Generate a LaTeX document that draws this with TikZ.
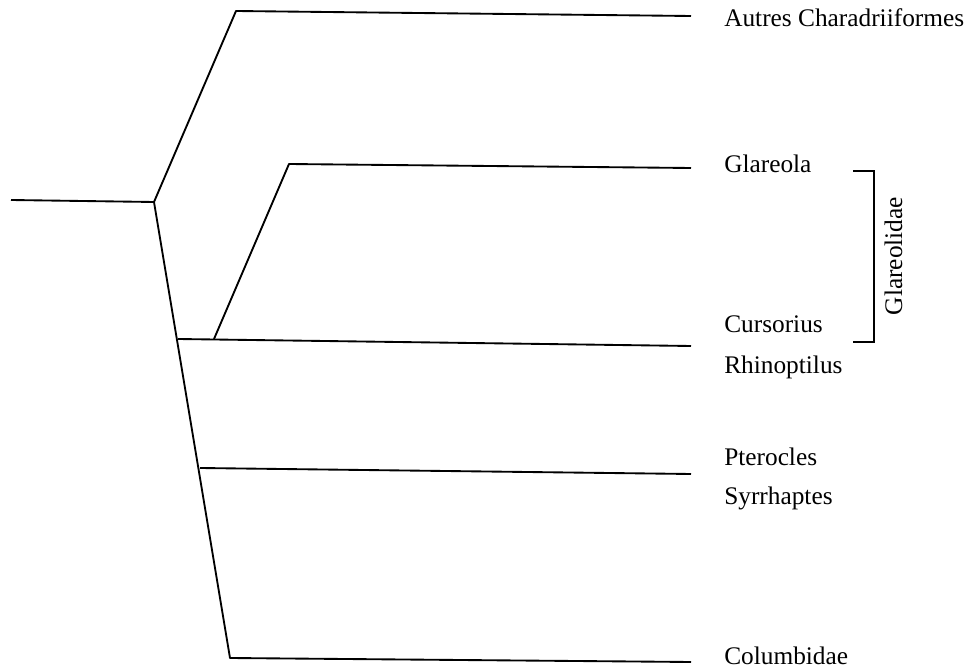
\documentclass[tikz,border=0pt]{standalone}
\usepackage{fontspec}
\setmainfont{Liberation Serif}
\usetikzlibrary{positioning,calc}
\tikzset{branch/.style={line width=1.4pt, line join=round},
  taxon/.style={anchor=base west, inner sep=0pt, font=\fontsize{19}{22}\selectfont}}

\begin{document}
\begin{tikzpicture}[x=0.75pt, y=-0.75pt]
    \useasboundingbox (0,0) rectangle (976,670);
    % tree points
    \coordinate (root) at (11,200);
    \coordinate (n1) at (154,202);
    \coordinate (up) at (236,11);
    \coordinate (n2) at (178,339);
    \coordinate (n3) at (214,339);
    \coordinate (gl) at (289,164);
    \coordinate (n4) at (200,468);
    \coordinate (n5) at (230,658);
    \foreach[count=\i] \lab/\y in {Autres Charadriiformes/27,Glareola/173,Cursorius/333,Rhinoptilus/374,Pterocles/466,Syrrhaptes/505,Columbidae/664} {
        \node[taxon] (t-\i) at (724,\y) {\lab};
    }
    \coordinate (e1) at (691,16);
    \coordinate (e2) at (691,168);
    \coordinate (e3) at (691,346);
    \coordinate (e4) at (691,474);
    \coordinate (e5) at (691,662);
    \draw[branch] (root) -- (n1) -- (up) -- (e1);
    \draw[branch] (n1) -- (n5) -- (e5);
    \draw[branch] (n2) -- (e3);
    \draw[branch] (n3) -- (gl) -- (e2);
    \draw[branch] (n4) -- (e4);
    % bracket
    \coordinate (b1) at (853,171);
    \coordinate (b2) at (853,342);
    \draw[line width=1.3pt] (b1) -- ++(21,0) |- (b2);
    \node[rotate=90, anchor=base, inner sep=0pt, font=\fontsize{19}{22}\selectfont] (fam) at (902,256) {Glareolidae};
\end{tikzpicture}
\end{document}
